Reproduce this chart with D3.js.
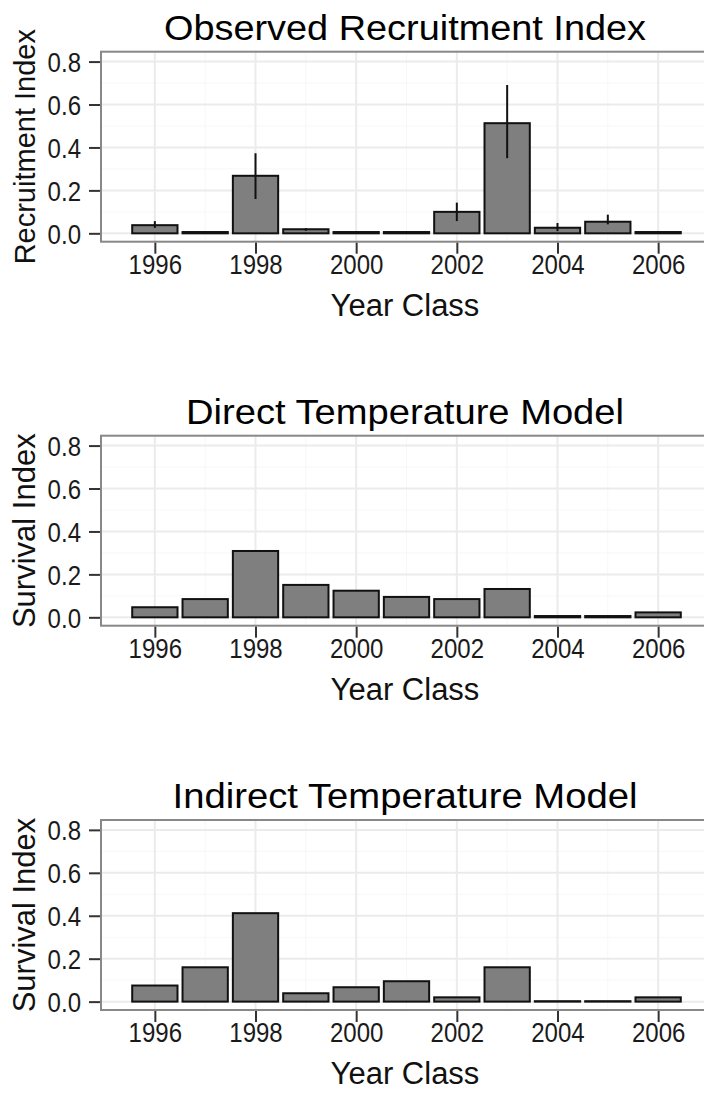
<!DOCTYPE html>
<html>
<head>
    <title>Recruitment and Survival Index</title>
    <script src="https://d3js.org/d3.v7.min.js"></script>
    <style>
        body { margin: 0; background: #fff; }
        text { font-family: "Liberation Sans", Arial, sans-serif; }
        .grid-major { stroke: #ebebeb; stroke-width: 2px; }
        .grid-minor { stroke: #f7f7f7; stroke-width: 1px; }
        .frame { fill: none; stroke: #888; stroke-width: 2px; }
        .bar { fill: #7f7f7f; stroke: #111; stroke-width: 2px; }
        .err { stroke: #111; stroke-width: 2px; }
        .tick-line { stroke: #333; stroke-width: 2px; }
        .tick-label { fill: #1a1a1a; }
        .title { fill: #000; font-size: 35px; }
        .axis-title { fill: #111; }
    </style>
</head>
<body>
<div id="chart"></div>
<script>
    // Data
    var years = [1996, 1997, 1998, 1999, 2000, 2001, 2002, 2003, 2004, 2005, 2006];
    var observed     = [0.038, 0.006, 0.268, 0.019, 0.006, 0.006, 0.100, 0.513, 0.026, 0.054, 0.006];
    var observedLow  = [0.025, 0.004, 0.160, 0.012, 0.004, 0.004, 0.057, 0.350, 0.010, 0.042, 0.004];
    var observedHigh = [0.057, 0.008, 0.373, 0.024, 0.008, 0.008, 0.143, 0.691, 0.048, 0.087, 0.008];
    var direct   = [0.047, 0.085, 0.309, 0.151, 0.124, 0.095, 0.085, 0.132, 0.006, 0.006, 0.023];
    var indirect = [0.075, 0.160, 0.412, 0.039, 0.067, 0.095, 0.020, 0.160, 0.002, 0.002, 0.020];

    var xTicks = [1996, 1998, 2000, 2002, 2004, 2006];
    var xMinor = [1997, 1999, 2001, 2003, 2005];
    var yTicks = [0, 0.2, 0.4, 0.6, 0.8];
    var yMinor = [0.1, 0.3, 0.5, 0.7];

    var panels = [
        { title: "Observed Recruitment Index", titleLen: 482, ylab: "Recruitment Index", ylabSize: 29,
          values: observed, low: observedLow, high: observedHigh, top: 51.7 },
        { title: "Direct Temperature Model", titleLen: 438, ylab: "Survival Index", ylabSize: 31,
          values: direct, top: 435.7 },
        { title: "Indirect Temperature Model", titleLen: 465, ylab: "Survival Index", ylabSize: 31,
          values: indirect, top: 820 }
    ];

    var width = 704, height = 1093;
    var plotLeft = 101, plotRight = 712, plotH = 190;

    var svg = d3.select("#chart").append("svg")
        .attr("width", width)
        .attr("height", height);

    var x = d3.scaleLinear()
        .domain([1994.93, 2007.07])
        .range([plotLeft, plotRight]);
    var barW = (x(1997) - x(1996)) * 0.9;

    // squeeze tick labels a little, the original text is narrow
    function narrow(sel) {
        sel.each(function() {
            d3.select(this).attr("textLength", this.getComputedTextLength() * 0.89)
                .attr("lengthAdjust", "spacingAndGlyphs");
        });
    }

    panels.forEach(function(p) {
        var y = d3.scaleLinear()
            .domain([-0.039, 0.846])
            .range([p.top + plotH, p.top]);

        var g = svg.append("g");

        // background grid
        g.selectAll(".gy-minor").data(yMinor).enter().append("line")
            .attr("class", "grid-minor")
            .attr("x1", plotLeft).attr("x2", plotRight)
            .attr("y1", d => y(d)).attr("y2", d => y(d));
        g.selectAll(".gx-minor").data(xMinor).enter().append("line")
            .attr("class", "grid-minor")
            .attr("x1", d => x(d)).attr("x2", d => x(d))
            .attr("y1", p.top).attr("y2", p.top + plotH);
        g.selectAll(".gy-major").data(yTicks).enter().append("line")
            .attr("class", "grid-major")
            .attr("x1", plotLeft).attr("x2", plotRight)
            .attr("y1", d => y(d)).attr("y2", d => y(d));
        g.selectAll(".gx-major").data(xTicks).enter().append("line")
            .attr("class", "grid-major")
            .attr("x1", d => x(d)).attr("x2", d => x(d))
            .attr("y1", p.top).attr("y2", p.top + plotH);

        // bars
        g.selectAll(".bar").data(years).enter().append("rect")
            .attr("class", "bar")
            .attr("x", d => x(d) - barW / 2)
            .attr("width", barW)
            .attr("y", (d, i) => y(p.values[i]))
            .attr("height", (d, i) => y(0) - y(p.values[i]));

        // error bars (observed only)
        if (p.low) {
            g.selectAll(".err").data(years).enter().append("line")
                .attr("class", "err")
                .attr("x1", d => x(d)).attr("x2", d => x(d))
                .attr("y1", (d, i) => y(p.low[i]))
                .attr("y2", (d, i) => y(p.high[i]));
        }

        // panel border
        g.append("rect")
            .attr("class", "frame")
            .attr("x", plotLeft).attr("y", p.top)
            .attr("width", plotRight - plotLeft).attr("height", plotH);

        // axes
        var xAxis = d3.axisBottom(x).tickValues(xTicks).tickSize(11).tickFormat(d3.format("d"));
        var ax = g.append("g")
            .attr("transform", "translate(0," + (p.top + plotH + 1) + ")")
            .call(xAxis);
        ax.select(".domain").remove();
        ax.selectAll("line").attr("class", "tick-line").attr("stroke", null);
        ax.selectAll("text").attr("class", "tick-label").attr("fill", null)
            .attr("dy", null).attr("y", 31)
            .style("font-size", "27px")
            .call(narrow);

        var yAxis = d3.axisLeft(y).tickValues(yTicks).tickSize(11).tickFormat(d3.format(".1f"));
        var ay = g.append("g")
            .attr("transform", "translate(" + (plotLeft - 1) + ",0)")
            .call(yAxis);
        ay.select(".domain").remove();
        ay.selectAll("line").attr("class", "tick-line").attr("stroke", null);
        ay.selectAll("text").attr("class", "tick-label").attr("fill", null)
            .attr("x", -19).attr("dy", "0.36em")
            .style("font-size", "27px")
            .call(narrow);

        // titles
        var cx = (plotLeft + 709) / 2;
        g.append("text")
            .attr("class", "title")
            .attr("x", cx)
            .attr("y", p.top - 12)
            .attr("text-anchor", "middle")
            .attr("textLength", p.titleLen)
            .attr("lengthAdjust", "spacingAndGlyphs")
            .text(p.title);

        g.append("text")
            .attr("class", "axis-title")
            .attr("x", cx)
            .attr("y", p.top + plotH + 74)
            .attr("text-anchor", "middle")
            .style("font-size", "31px")
            .text("Year Class");

        g.append("text")
            .attr("class", "axis-title")
            .attr("transform", "translate(35," + (p.top + plotH / 2) + ") rotate(-90)")
            .attr("text-anchor", "middle")
            .style("font-size", p.ylabSize + "px")
            .text(p.ylab);
    });
</script>
</body>
</html>
